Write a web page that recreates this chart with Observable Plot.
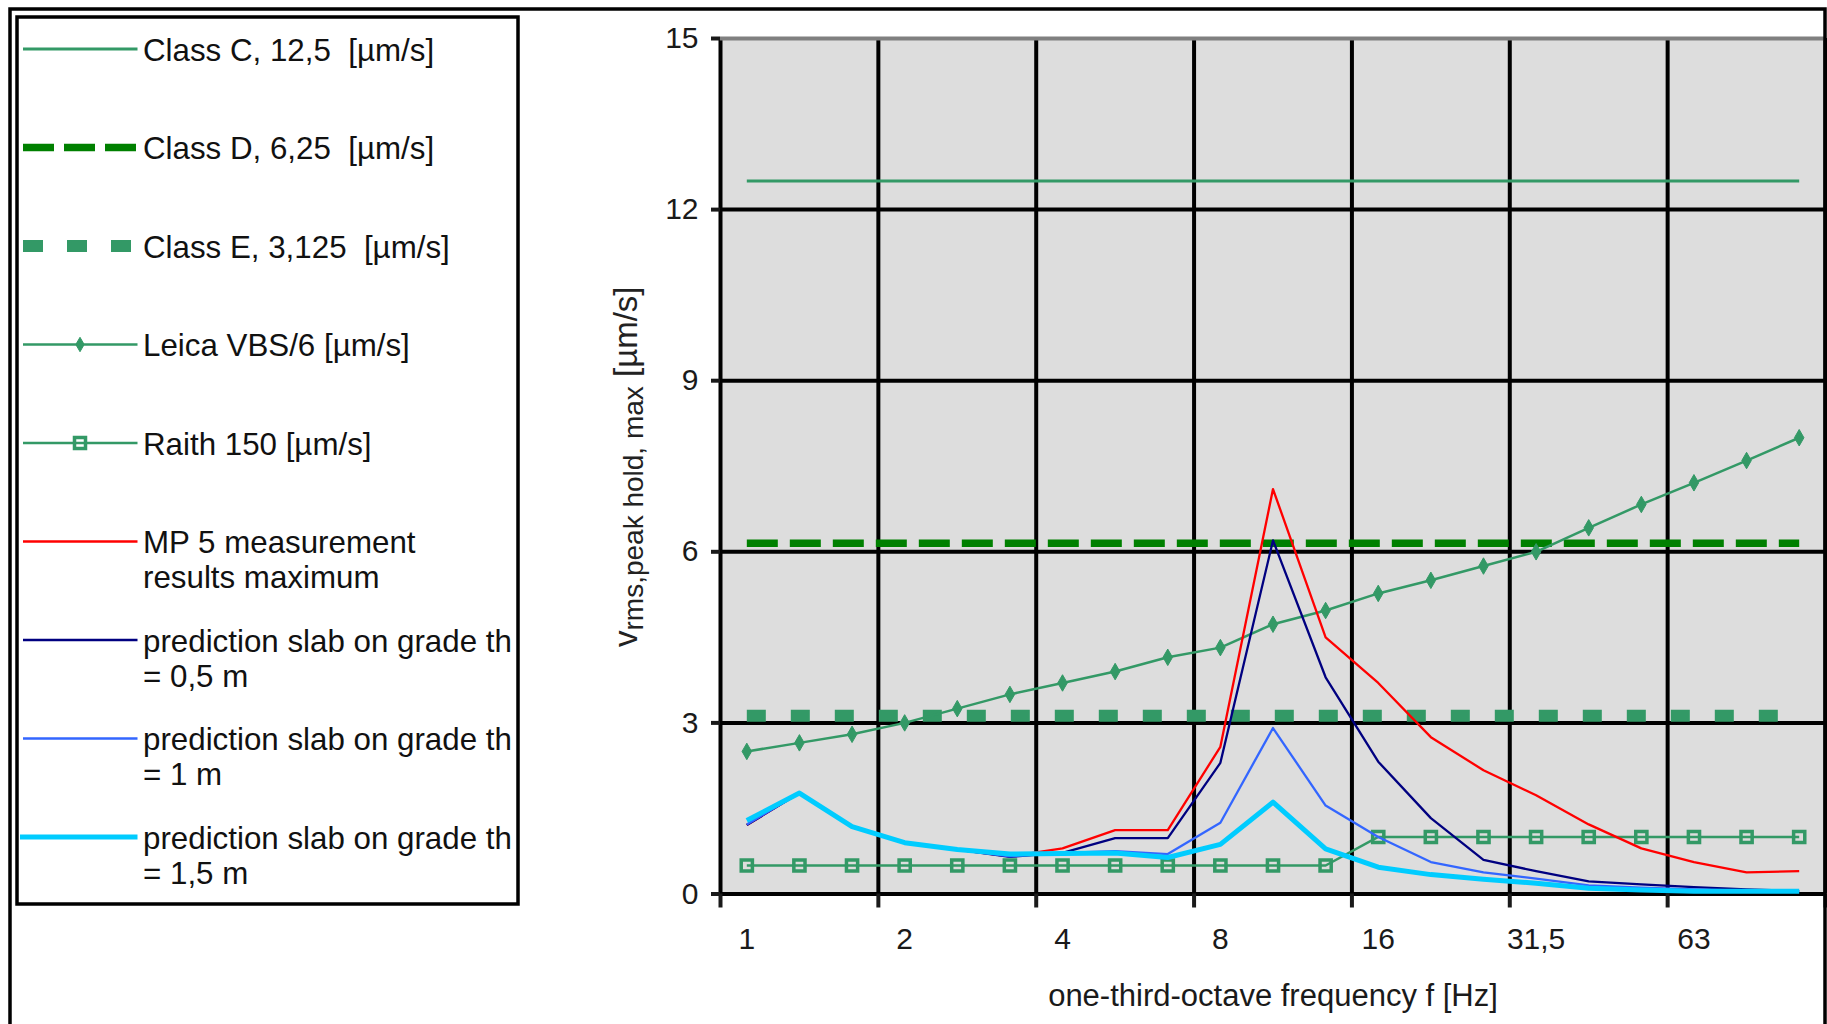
<!DOCTYPE html>
<html>
<head>
<meta charset="utf-8">
<script src="https://cdn.jsdelivr.net/npm/d3@7"></script>
<script src="https://cdn.jsdelivr.net/npm/@observablehq/plot@0.6"></script>
<style>
  html, body { margin: 0; padding: 0; background: #fff; }
  #wrap { position: relative; width: 1827px; height: 1024px; overflow: hidden; font-family: "Liberation Sans", Arial, sans-serif; }
  #wrap > svg { position: absolute; left: 0; top: 0; }
</style>
</head>
<body>
<div id="wrap"></div>
<script>
// ---------- data ----------
const frequencies = ["1","1,25","1,6","2","2,5","3,15","4","5","6,3","8","10","12,5","16","20","25","31,5","40","50","63","80","100"];
const tickLabels = ["1","2","4","8","16","31,5","63"];
const yTicks = [0, 3, 6, 9, 12, 15];

const classC = 12.5;
const classD = 6.15;
const classE = 3.125;
const leica  = [2.5, 2.65, 2.8, 3.0, 3.25, 3.5, 3.7, 3.9, 4.15, 4.32, 4.73, 4.97, 5.27, 5.5, 5.75, 6.0, 6.42, 6.83, 7.21, 7.6, 8.0];
const raith  = [0.5, 0.5, 0.5, 0.5, 0.5, 0.5, 0.5, 0.5, 0.5, 0.5, 0.5, 0.5, 1.0, 1.0, 1.0, 1.0, 1.0, 1.0, 1.0, 1.0, 1.0];
const mp5    = [1.21, 1.77, 1.18, 0.90, 0.78, 0.66, 0.80, 1.12, 1.12, 2.58, 7.1, 4.5, 3.7, 2.75, 2.17, 1.73, 1.22, 0.80, 0.56, 0.38, 0.40];
const pred05 = [1.21, 1.77, 1.18, 0.90, 0.78, 0.65, 0.72, 0.98, 0.98, 2.3, 6.2, 3.8, 2.32, 1.33, 0.6, 0.4, 0.22, 0.17, 0.12, 0.08, 0.05];
const pred10 = [1.22, 1.77, 1.18, 0.90, 0.78, 0.66, 0.72, 0.75, 0.70, 1.25, 2.91, 1.55, 1.0, 0.56, 0.38, 0.27, 0.15, 0.11, 0.08, 0.06, 0.05];
const pred15 = [1.29, 1.77, 1.18, 0.90, 0.78, 0.70, 0.71, 0.72, 0.64, 0.87, 1.61, 0.79, 0.47, 0.34, 0.26, 0.19, 0.10, 0.07, 0.05, 0.05, 0.05];

const legendLabels = [
  ["Class C, 12,5  [\u00b5m/s]"],
  ["Class D, 6,25  [\u00b5m/s]"],
  ["Class E, 3,125  [\u00b5m/s]"],
  ["Leica VBS/6 [\u00b5m/s]"],
  ["Raith 150 [\u00b5m/s]"],
  ["MP 5 measurement", "results maximum"],
  ["prediction slab on grade th", "= 0,5 m"],
  ["prediction slab on grade th", "= 1 m"],
  ["prediction slab on grade th", "= 1,5 m"]
];
const xTitle = "one-third-octave frequency f [Hz]";
const yTitleMain = "v";
const yTitleSub = "rms,peak hold, max";
const yTitleUnit = " [\u00b5m/s]";

// ---------- styles ----------
const GREEN = "#339966", DKGREEN = "#008000", RED = "#ff0000", NAVY = "#000080", BLUE = "#3366ff", CYAN = "#00ccff";
const styles = [
  {stroke: GREEN, strokeWidth: 3},
  {stroke: DKGREEN, strokeWidth: 7.5, strokeDasharray: "31,12"},
  {stroke: GREEN, strokeWidth: 12, strokeDasharray: "19,25"},
  {stroke: GREEN, strokeWidth: 2.5, marker: "diamond"},
  {stroke: GREEN, strokeWidth: 2.5, marker: "square"},
  {stroke: RED, strokeWidth: 2.3},
  {stroke: NAVY, strokeWidth: 2.3},
  {stroke: BLUE, strokeWidth: 2.3},
  {stroke: CYAN, strokeWidth: 5}
];

const rows = vals => vals.map((v, i) => ({i, v}));
const constRows = v => frequencies.map((f, i) => ({i, v}));
const boundaries = d3.range(-0.5, frequencies.length, 3);
const labelPos = tickLabels.map(l => frequencies.indexOf(l));

const seriesData = [constRows(classC), constRows(classD), constRows(classE), rows(leica), rows(raith), rows(mp5), rows(pred05), rows(pred10), rows(pred15)];

const lineMarks = [];
seriesData.forEach((d, k) => {
  const s = styles[k];
  lineMarks.push(Plot.line(d, {x: "i", y: "v", stroke: s.stroke, strokeWidth: s.strokeWidth, strokeDasharray: s.strokeDasharray, strokeLinecap: "butt"}));
  if (s.marker === "diamond") lineMarks.push(Plot.dot(d, {x: "i", y: "v", symbol: "diamond", r: 5, fill: GREEN, stroke: GREEN, strokeWidth: 1}));
  if (s.marker === "square") lineMarks.push(Plot.dot(d, {x: "i", y: "v", symbol: "square", r: 6.3, fill: "none", stroke: GREEN, strokeWidth: 3.5}));
});

const chart = Plot.plot({
  width: 1827, height: 1024,
  marginLeft: 720, marginRight: 2, marginTop: 38, marginBottom: 130.5,
  style: {background: "transparent", fontFamily: "'Liberation Sans', Arial, sans-serif", color: "#1a1a1a", overflow: "visible"},
  x: {domain: [-0.5, frequencies.length - 0.5], label: null},
  y: {domain: [yTicks[0], yTicks[yTicks.length - 1]], label: null},
  marks: [
    Plot.frame({fill: "#dddddd", stroke: "none"}),
    Plot.ruleY(yTicks.slice(0, -1), {stroke: "#000", strokeWidth: 4}),
    Plot.ruleX(boundaries, {stroke: "#000", strokeWidth: 4}),
    Plot.ruleY(yTicks.slice(-1), {stroke: "#808080", strokeWidth: 4}),
    Plot.axisY(yTicks, {tickSize: 9, strokeWidth: 4, tickPadding: 13, fontSize: 30, tickFormat: d => String(d), label: null}),
    Plot.axisX(boundaries, {tickSize: 14, strokeWidth: 4, tickFormat: () => "", label: null}),
    Plot.axisX(labelPos, {tickSize: 0, tickPadding: 34, tickFormat: i => frequencies[i], fontSize: 30, label: null}),
    Plot.text([xTitle], {frameAnchor: "bottom", dy: 102, fontSize: 31, lineAnchor: "middle", fill: "#1a1a1a"}),
    ...lineMarks
  ]
});
document.getElementById("wrap").appendChild(chart);

// ---------- overlay: frame, legend, y title ----------
const ov = d3.create("svg").attr("width", 1827).attr("height", 1024)
  .style("font-family", "'Liberation Sans', Arial, sans-serif");

ov.append("rect").attr("x", 10).attr("y", 9).attr("width", 1815).attr("height", 1040)
  .attr("fill", "none").attr("stroke", "#000").attr("stroke-width", 3.5);

const box = {x: 17, y: 17, w: 501, h: 887};
ov.append("clipPath").attr("id", "lgclip").append("rect")
  .attr("x", box.x).attr("y", box.y).attr("width", box.w).attr("height", box.h);
ov.append("rect").attr("x", box.x).attr("y", box.y).attr("width", box.w).attr("height", box.h)
  .attr("fill", "#fff").attr("stroke", "#000").attr("stroke-width", 3.5);

const lg = ov.append("g").attr("clip-path", "url(#lgclip)");
legendLabels.forEach((lines, k) => {
  const s = styles[k];
  const y = 49 + 98.5 * k;
  const x1 = k === 8 ? 20 : 23, x2 = 137.5;
  lg.append("line").attr("x1", x1).attr("x2", x2).attr("y1", y).attr("y2", y)
    .attr("stroke", s.stroke).attr("stroke-width", s.strokeWidth)
    .attr("stroke-dasharray", s.strokeDasharray ? (k === 1 ? "31,10" : "20,24") : null);
  if (s.marker === "diamond") {
    lg.append("path").attr("d", d3.symbol(d3.symbolDiamond, 60)()).attr("transform", `translate(80,${y})`)
      .attr("fill", GREEN).attr("stroke", GREEN);
  }
  if (s.marker === "square") {
    lg.append("rect").attr("x", 80 - 5.5).attr("y", y - 5.5).attr("width", 11).attr("height", 11)
      .attr("fill", "none").attr("stroke", GREEN).attr("stroke-width", 3.5);
  }
  lines.forEach((t, j) => {
    lg.append("text").attr("x", 143).attr("y", y + 1 + j * 35)
      .attr("dominant-baseline", "central").attr("font-size", 31.3).attr("fill", "#111")
      .style("white-space", "pre").text(t);
  });
});

const yt = ov.append("text").attr("transform", "translate(637,647) rotate(-90)")
  .attr("fill", "#222").style("white-space", "pre");
yt.append("tspan").attr("font-size", 33).text(yTitleMain);
yt.append("tspan").attr("font-size", 28).attr("dy", 6).text(yTitleSub);
yt.append("tspan").attr("font-size", 33).attr("dy", -6).text(yTitleUnit);

document.getElementById("wrap").appendChild(ov.node());
</script>
</body>
</html>
